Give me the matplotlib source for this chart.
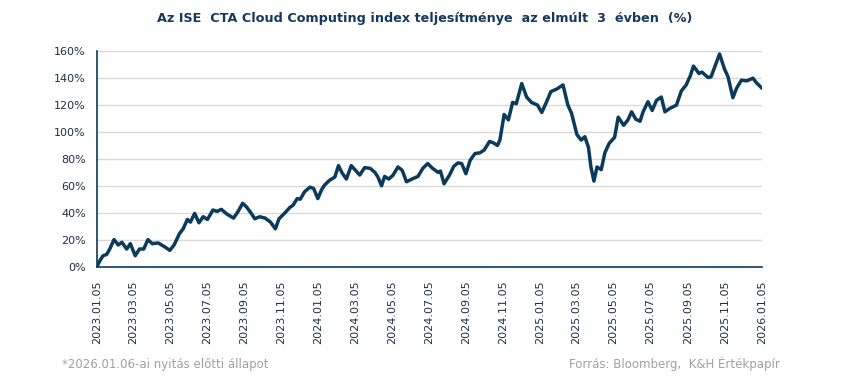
import numpy as np
import pandas as pd
import matplotlib
matplotlib.use("Agg")
import matplotlib.pyplot as plt
import matplotlib.dates as mdates

# index performance (%)
dates = [
    "2023-01-05", "2023-01-10", "2023-01-15", "2023-01-21", "2023-01-26", "2023-02-02",
    "2023-02-09", "2023-02-15", "2023-02-23", "2023-03-01", "2023-03-09", "2023-03-16",
    "2023-03-23", "2023-03-30", "2023-04-06", "2023-04-16", "2023-04-27", "2023-05-05",
    "2023-05-12", "2023-05-21", "2023-05-27", "2023-06-03", "2023-06-08", "2023-06-15",
    "2023-06-22", "2023-06-29", "2023-07-06", "2023-07-10", "2023-07-15", "2023-07-22",
    "2023-07-29", "2023-08-07", "2023-08-18", "2023-08-25", "2023-09-02", "2023-09-09",
    "2023-09-17", "2023-09-22", "2023-09-30", "2023-10-09", "2023-10-18", "2023-10-26",
    "2023-11-01", "2023-11-11", "2023-11-19", "2023-11-24", "2023-12-01", "2023-12-06",
    "2023-12-13", "2023-12-22", "2023-12-28", "2024-01-04", "2024-01-10", "2024-01-15",
    "2024-01-23", "2024-02-01", "2024-02-07", "2024-02-13", "2024-02-20", "2024-02-28",
    "2024-03-06", "2024-03-13", "2024-03-21", "2024-03-30", "2024-04-07", "2024-04-12",
    "2024-04-18", "2024-04-23", "2024-04-30", "2024-05-07", "2024-05-15", "2024-05-22",
    "2024-05-29", "2024-06-07", "2024-06-17", "2024-06-25", "2024-07-03", "2024-07-11",
    "2024-07-20", "2024-07-24", "2024-07-30", "2024-08-08", "2024-08-15", "2024-08-22",
    "2024-08-28", "2024-09-04", "2024-09-11", "2024-09-19", "2024-09-27", "2024-10-04",
    "2024-10-13", "2024-10-19", "2024-10-26", "2024-10-30", "2024-11-06", "2024-11-13",
    "2024-11-20", "2024-11-26", "2024-12-05", "2024-12-13", "2024-12-21", "2024-12-31",
    "2025-01-07", "2025-01-14", "2025-01-22", "2025-02-01", "2025-02-11", "2025-02-19",
    "2025-02-25", "2025-03-06", "2025-03-13", "2025-03-19", "2025-03-25", "2025-03-29",
    "2025-04-03", "2025-04-08", "2025-04-15", "2025-04-21", "2025-04-28", "2025-05-07",
    "2025-05-13", "2025-05-22", "2025-05-29", "2025-06-04", "2025-06-11", "2025-06-18",
    "2025-06-23", "2025-07-01", "2025-07-08", "2025-07-15", "2025-07-23", "2025-07-29",
    "2025-08-06", "2025-08-17", "2025-08-25", "2025-09-02", "2025-09-09", "2025-09-14",
    "2025-09-23", "2025-09-28", "2025-10-08", "2025-10-13", "2025-10-22", "2025-10-27",
    "2025-11-04", "2025-11-10", "2025-11-18", "2025-11-24", "2025-12-02", "2025-12-11",
    "2025-12-21", "2025-12-27", "2026-01-05",
]
perf = [
    0, 4.5, 8, 9, 13, 20,
    16, 18, 13, 17, 8, 13,
    13, 20, 17, 17.5, 14.5, 12,
    16, 24.5, 28, 35, 33, 39.5,
    32.5, 37, 35, 38, 42, 41,
    42.5, 39, 36, 40.5, 47, 44,
    39, 35.5, 37, 36, 33, 28,
    35.5, 40, 44, 45.5, 50.5, 50,
    55.5, 59, 58, 50.5, 57, 60.5,
    64, 66.5, 75, 69.5, 65, 75,
    71.5, 68, 73.5, 73, 70, 66.5,
    60, 67, 65, 68, 74, 71.5,
    63, 65, 67, 73, 76.5, 73,
    70, 71, 61.5, 68, 74.5, 77,
    76.5, 69, 79, 84, 84.5, 86.5,
    93, 92, 90, 94, 113, 109,
    122, 121, 136, 126, 122, 120,
    114.5, 121.5, 130, 132, 135, 120,
    114, 98, 94, 96.5, 88.5, 74,
    63.5, 74, 72, 84.5, 91.5, 96,
    111, 105, 109, 115, 109.5, 108,
    115, 122.5, 116, 123.5, 126, 115,
    117.5, 120, 130.5, 135, 142, 149,
    143.5, 144.5, 140.5, 141, 152, 158,
    147, 141, 125.5, 132.5, 138.5, 138,
    140, 136.5, 132.5,
]

tick_dates = pd.date_range("2023-01-01", "2026-01-01", freq="2MS") + pd.Timedelta(days=4)
y_ticks = [0, 20, 40, 60, 80, 100, 120, 140, 160]

title = "Az ISE  CTA Cloud Computing index teljesítménye  az elmúlt  3  évben  (%)"
note = "*2026.01.06-ai nyitás előtti állapot"
source = "Forrás: Bloomberg,  K&H Értékpapír"

navy = "#0c3a5b"
x = pd.to_datetime(dates)

fig = plt.figure(figsize=(8.5, 3.76), dpi=100)
ax = fig.add_axes([0.1141, 0.2912, 0.7824, 0.5724])

ax.plot(x, perf, color=navy, lw=2.5, solid_joinstyle="round", solid_capstyle="round", zorder=3)

ax.set_xlim(pd.Timestamp("2023-01-05"), pd.Timestamp("2026-01-05"))
ax.set_ylim(0, 160)
ax.set_yticks(y_ticks)
ax.set_yticklabels([f"{v}%" for v in y_ticks])
ax.set_xticks(tick_dates)
ax.xaxis.set_major_formatter(mdates.DateFormatter("%Y.%m.%d"))

ax.grid(axis="y", color="#d9d9d9", lw=1)
ax.set_axisbelow(True)
for s in ["top", "right"]:
    ax.spines[s].set_visible(False)
ax.spines["left"].set_color(navy)
ax.spines["bottom"].set_color(navy)
ax.spines["left"].set_linewidth(1.2)
ax.spines["bottom"].set_linewidth(1.2)

ax.tick_params(axis="y", length=0, pad=8, labelsize=8, labelcolor="#1f2f45")
ax.tick_params(axis="x", length=0, pad=10, labelsize=8, labelcolor="#1f2f45", labelrotation=90)

fig.text(0.5, 0.952, title, ha="center", va="center", fontsize=9.2, fontweight="bold",
         color="#17375e")
fig.text(0.073, 0.032, note, ha="left", va="center", fontsize=8.5, color="#a0a0a0")
fig.text(0.918, 0.032, source, ha="right", va="center", fontsize=8.5, color="#a0a0a0")

fig.savefig("out.png", dpi=100)
